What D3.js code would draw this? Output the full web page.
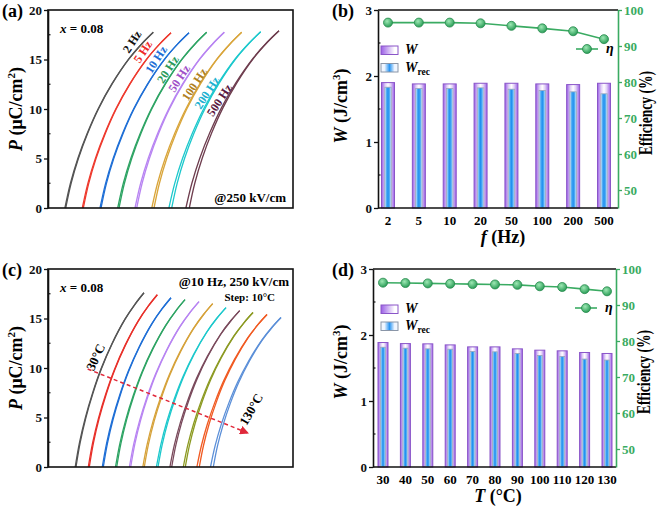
<!DOCTYPE html>
<html><head><meta charset="utf-8">
<script src="https://cdn.jsdelivr.net/npm/d3@7"></script>
<style>
body{margin:0;background:#fff}
text{font-family:"Liberation Serif","Times New Roman",serif;font-weight:bold}
</style>
</head><body>
<svg id="c" width="661" height="507"></svg>
<script>
// ---------------- DATA ----------------
const freqCats = ["2","5","10","20","50","100","200","500"];
const freqLabels = ["2 Hz","5 Hz","10 Hz","20 Hz","50 Hz","100 Hz","200 Hz","500 Hz"];
const freqW    = [1.90,1.88,1.88,1.89,1.89,1.88,1.87,1.89];
const freqWrec = [1.83,1.81,1.81,1.82,1.80,1.78,1.76,1.73];
const freqEta  = [96.5,96.5,96.5,96.3,95.6,94.9,94.1,91.9];

const tempCats = ["30","40","50","60","70","80","90","100","110","120","130"];
const tempW    = [1.886,1.870,1.866,1.850,1.820,1.820,1.790,1.770,1.760,1.735,1.720];
const tempWrec = [1.815,1.800,1.790,1.785,1.750,1.745,1.720,1.690,1.675,1.635,1.620];
const tempEta  = [96.2,96.1,96.0,95.9,95.8,95.7,95.6,95.2,95.0,94.4,93.8];

// unipolar P-E loop shape (normalized, read from the 2 Hz loop)
const loopShapeE = [0, 0.062, 0.145, 0.25, 0.375, 0.53, 0.72, 0.87, 1];
const loopShapeP = [0, 0.141, 0.282, 0.424, 0.565, 0.706, 0.847, 0.935, 1];

// panel (a): loops shifted horizontally (arb. E units), Pmax, branch gap
const freqOffset = [17.7,35.3,53,71,88.7,106,123.7,141.3];
const freqWidth  = [87.6,87.7,88,87.7,87.6,87.7,89,89.7];
const freqPmax   = [17.75,17.7,17.7,17.75,17.75,17.75,17.8,17.9];
const freqGap    = [0.8,1.0,1.0,1.3,1.7,2.2,2.8,3.4];
const freqColors = ["#555555","#ee3a2e","#1f6fd6","#2ea464","#b884f2","#d9a53a","#1cc8cc","#6e3d4e"];
const freqLabelColors = ["#111111","#ee2a2a","#1f6fd6","#2a9a5a","#a050c8","#b08020","#22b0d0","#5a1840"];
const freqLabelE = [84,94.7,108,119.7,131,146.3,159,171.3];
const freqLabelP = [16.8,15.8,15.0,14.0,13.1,12.5,11.65,10.9];

// panel (c)
const tempOffset = [28,41.3,55.3,68.7,82.7,96.3,110,123.7,137.3,151.3,165.3];
const tempWidth  = [68,68,67.7,68.3,68.3,68.4,68,68,67.7,67.7,67.7];
const tempPmax   = [17.6,17.4,17.1,16.9,16.7,16.5,16.1,15.8,15.6,15.4,15.1];
const tempGap    = [0.8,1.0,1.0,1.2,1.3,1.5,1.6,1.8,2.0,2.4,2.8];
const tempColors = ["#555555","#e8302a","#1f6fd6","#2ea464","#b884f2","#d6a23a","#1cc8cc","#7a4a5c","#8c9a22","#f05a22","#5b8fd8"];

const pTicks = [0,5,10,15,20];
const wTicks = [0,1,2,3];
const etaTicks = [50,60,70,80,90,100];

// ---------------- DRAW ----------------
const svg = d3.select("#c");
const defs = svg.append("defs");
function grad(id, stops){
  const g = defs.append("linearGradient").attr("id",id)
    .attr("x1","0%").attr("x2","100%").attr("y1","0%").attr("y2","0%");
  stops.forEach(([o,c])=>g.append("stop").attr("offset",o).attr("stop-color",c));
}
grad("gW", [["0%","#9a5ee6"],["30%","#e2d2f7"],["50%","#ffffff"],["70%","#e2d2f7"],["100%","#9a5ee6"]]);
grad("gR", [["0%","#e6f2ff"],["25%","#56b0f5"],["50%","#1e8ff0"],["75%","#56b0f5"],["100%","#e6f2ff"]]);
grad("gWL",[["0%","#9a5ee6"],["80%","#ffffff"],["100%","#ffffff"]]);
grad("gRL",[["0%","#f0f6ff"],["20%","#f0f6ff"],["50%","#2a95f2"],["80%","#f0f6ff"],["100%","#f0f6ff"]]);
const rg = defs.append("radialGradient").attr("id","gM").attr("cx","40%").attr("cy","35%").attr("r","65%");
rg.append("stop").attr("offset","0%").attr("stop-color","#9ee8b4");
rg.append("stop").attr("offset","100%").attr("stop-color","#2a9d57");

const GREEN = "#3aab62";

function styleAxis(g, color){
  g.selectAll("path").attr("stroke", color).attr("stroke-width",1.6);
  g.selectAll("line").attr("stroke", color).attr("stroke-width",1.3);
  g.selectAll("text").attr("fill", color).attr("font-size",13)
    .attr("font-family","Liberation Serif").attr("font-weight","bold");
}

function minor(g, scale, vals, x0, dir, color){
  vals.forEach(v=>g.append("line").attr("x1",x0).attr("x2",x0+dir*2.5)
    .attr("y1",scale(v)).attr("y2",scale(v)).attr("stroke",color).attr("stroke-width",1.2));
}

function pePanel(o){
  const g = svg.append("g");
  const x = d3.scaleLinear().domain([0,245]).range([o.L,o.R]);
  const y = d3.scaleLinear().domain([0,20]).range([o.B,o.T]);
  const line = d3.line().x(d=>x(d[0])).y(d=>y(d[1])).curve(d3.curveCatmullRom.alpha(0.5));
  o.offset.forEach((off,i)=>{
    const a = loopShapeE.map((e,k)=>[off + e*o.width[i], loopShapeP[k]*o.pmax[i]]);
    const b = loopShapeE.map((e,k)=>[off - o.gap[i]*(1-loopShapeP[k]) + e*o.width[i], loopShapeP[k]*o.pmax[i]]);
    [a,b].forEach(pts=>g.append("path").attr("d",line(pts)).attr("fill","none")
      .attr("stroke",o.colors[i]).attr("stroke-width",1.3));
  });
  g.append("rect").attr("x",o.L).attr("y",o.T).attr("width",o.R-o.L).attr("height",o.B-o.T)
    .attr("fill","none").attr("stroke","#111").attr("stroke-width",1.6);
  const ax = g.append("g").attr("transform",`translate(${o.L},0)`)
    .call(d3.axisLeft(y).tickValues(pTicks).tickSize(4).tickPadding(2).tickSizeOuter(0).tickFormat(d3.format("d")));
  styleAxis(ax,"#111");
  minor(g, y, [2.5,7.5,12.5,17.5], o.L, 1, "#111");
  const t = g.append("text").attr("transform",`translate(${o.L-26},${(o.T+o.B)/2}) rotate(-90)`)
    .attr("text-anchor","middle").attr("font-size",18);
  t.append("tspan").attr("font-style","italic").text("P");
  t.append("tspan").text(" (μC/cm");
  t.append("tspan").attr("font-size",11).attr("dy",-7).text("2");
  t.append("tspan").attr("dy",7).text(")");
  return {g,x,y};
}

function barPanel(o){
  const g = svg.append("g");
  const x = d3.scalePoint().domain(o.cats).range([o.x0,o.x1]);
  const y = d3.scaleLinear().domain([0,3]).range([o.B,o.T]);
  const y2 = d3.scaleLinear().domain([45,100]).range([o.B,o.T]);
  g.selectAll(".bw").data(o.W).join("rect")
    .attr("x",(d,i)=>x(o.cats[i])-o.bw/2).attr("width",o.bw)
    .attr("y",d=>y(d)).attr("height",d=>y(0)-y(d))
    .attr("fill","url(#gW)").attr("stroke","#8a55c8").attr("stroke-width",1);
  g.selectAll(".br").data(o.Wrec).join("rect")
    .attr("x",(d,i)=>x(o.cats[i])-o.iw/2).attr("width",o.iw)
    .attr("y",d=>y(d)).attr("height",d=>y(0)-y(d))
    .attr("fill","url(#gR)").attr("stroke","#9aa6b8").attr("stroke-width",0.8);
  g.append("line").attr("x1",o.L).attr("x2",o.R).attr("y1",o.T).attr("y2",o.T).attr("stroke","#111").attr("stroke-width",1.6);
  g.append("line").attr("x1",o.L).attr("x2",o.R).attr("y1",o.B).attr("y2",o.B).attr("stroke","#111").attr("stroke-width",1.6);
  const axL = g.append("g").attr("transform",`translate(${o.L},0)`)
    .call(d3.axisLeft(y).tickValues(wTicks).tickSize(4).tickPadding(2).tickSizeOuter(0).tickFormat(d3.format("d")));
  styleAxis(axL,"#111");
  minor(g, y, [0.5,1.5,2.5], o.L, 1, "#111");
  const axR = g.append("g").attr("transform",`translate(${o.R},0)`)
    .call(d3.axisRight(y2).tickValues(etaTicks).tickSize(4).tickPadding(2).tickSizeOuter(0).tickFormat(d3.format("d")));
  styleAxis(axR,GREEN);
  g.selectAll(".xl").data(o.cats).join("text")
    .attr("x",d=>x(d)).attr("y",o.B+16.5).attr("text-anchor","middle").attr("font-size",13).text(d=>d);
  const ln = d3.line().x((d,i)=>x(o.cats[i])).y(d=>y2(d));
  g.append("path").attr("d",ln(o.eta)).attr("fill","none").attr("stroke",GREEN).attr("stroke-width",1.6);
  g.selectAll(".mk").data(o.eta).join("circle")
    .attr("cx",(d,i)=>x(o.cats[i])).attr("cy",d=>y2(d)).attr("r",4.5)
    .attr("fill","url(#gM)").attr("stroke","#268a4c").attr("stroke-width",0.8);
  // legend
  const lx = 381;
  g.append("rect").attr("x",lx).attr("y",o.ly1).attr("width",17).attr("height",8.5)
    .attr("fill","url(#gWL)").attr("stroke","#8a55c8").attr("stroke-width",1);
  g.append("rect").attr("x",lx).attr("y",o.ly2).attr("width",17).attr("height",8.5)
    .attr("fill","url(#gRL)").attr("stroke","#8a96a8").attr("stroke-width",1);
  g.append("text").attr("x",lx+24).attr("y",o.ly1+8).attr("font-size",14).attr("font-style","italic").text("W");
  const tr = g.append("text").attr("x",lx+24).attr("y",o.ly2+8).attr("font-size",14);
  tr.append("tspan").attr("font-style","italic").text("W");
  tr.append("tspan").attr("font-size",9.5).attr("dy",3).text("rec");
  g.append("line").attr("x1",o.ex-11).attr("x2",o.ex+11).attr("y1",o.ey).attr("y2",o.ey).attr("stroke",GREEN).attr("stroke-width",1.6);
  g.append("circle").attr("cx",o.ex).attr("cy",o.ey).attr("r",4.5).attr("fill","url(#gM)").attr("stroke","#268a4c").attr("stroke-width",0.8);
  g.append("text").attr("x",o.ex+19).attr("y",o.ey+4).attr("font-size",14).attr("font-style","italic").text("η");
  // titles
  const t = g.append("text").attr("transform",`translate(${o.tx},${o.tyc}) rotate(-90)`)
    .attr("text-anchor","middle").attr("font-size",18);
  t.append("tspan").attr("font-style","italic").text("W");
  t.append("tspan").text(" (J/cm");
  t.append("tspan").attr("font-size",11).attr("dy",-7).text("3");
  t.append("tspan").attr("dy",7).text(")");
  g.append("text").attr("transform",`translate(${o.R+34},${(o.T+o.B)/2+4}) rotate(-90)`)
    .attr("text-anchor","middle").attr("font-size",18)
    .attr("textLength",84).attr("lengthAdjust","spacingAndGlyphs").text("Efficiency (%)");
  const xt = g.append("text").attr("x",o.xtc).attr("y",o.B+35).attr("text-anchor","middle").attr("font-size",18);
  xt.append("tspan").attr("font-style","italic").text(o.xvar);
  xt.append("tspan").text(o.xunit);
  return g;
}

// (a)
const A = pePanel({L:48,R:293,T:10,B:208,offset:freqOffset,width:freqWidth,pmax:freqPmax,gap:freqGap,colors:freqColors});
freqLabels.forEach((s,i)=>{
  A.g.append("text").attr("transform",`translate(${A.x(freqLabelE[i])},${A.y(freqLabelP[i])}) rotate(-57)`)
    .attr("text-anchor","middle").attr("dy","0.35em").attr("font-size",12).attr("fill",freqLabelColors[i]).text(s);
});
const xa = A.g.append("text").attr("x",60).attr("y",33).attr("font-size",13);
xa.append("tspan").attr("font-style","italic").text("x");
xa.append("tspan").text(" = 0.08");
A.g.append("text").attr("x",286).attr("y",202).attr("text-anchor","end").attr("font-size",13).text("@250 kV/cm");
svg.append("text").attr("x",2).attr("y",17).attr("font-size",18).attr("font-weight","normal").text("(a)");

// (b)
barPanel({L:378,R:618,T:10,B:208,x0:388,x1:604,cats:freqCats,W:freqW,Wrec:freqWrec,eta:freqEta,bw:13,iw:6.5,
  ly1:46,ly2:63.5,ex:587,ey:49,xvar:"f",xunit:" (Hz)",tx:347,tyc:106,xtc:503});
svg.append("text").attr("x",332).attr("y",17).attr("font-size",18).attr("font-weight","normal").text("(b)");

// (c)
const C = pePanel({L:48,R:293,T:269,B:467,offset:tempOffset,width:tempWidth,pmax:tempPmax,gap:tempGap,colors:tempColors});
const xc = C.g.append("text").attr("x",60).attr("y",292).attr("font-size",13);
xc.append("tspan").attr("font-style","italic").text("x");
xc.append("tspan").text(" = 0.08");
C.g.append("text").attr("x",289).attr("y",286).attr("text-anchor","end").attr("font-size",13).text("@10 Hz, 250 kV/cm");
C.g.append("text").attr("x",275).attr("y",301).attr("text-anchor","end").attr("font-size",11).text("Step: 10°C");
defs.append("marker").attr("id","arr").attr("viewBox","0 0 10 10").attr("refX",8).attr("refY",5)
  .attr("markerWidth",6).attr("markerHeight",6).attr("orient","auto")
  .append("path").attr("d","M0,0L10,5L0,10z").attr("fill","#e0283a");
C.g.append("line").attr("x1",C.x(39.7)).attr("y1",C.y(9.9)).attr("x2",C.x(199.3)).attr("y2",C.y(3.46))
  .attr("stroke","#e0283a").attr("stroke-width",1.5).attr("stroke-dasharray","4,3").attr("marker-end","url(#arr)");
C.g.append("text").attr("transform",`translate(${C.x(47.5)},${C.y(11.1)}) rotate(-65)`)
  .attr("text-anchor","middle").attr("dy","0.35em").attr("font-size",13).text("30°C");
C.g.append("text").attr("transform",`translate(${C.x(203)},${C.y(5.83)}) rotate(-60)`)
  .attr("text-anchor","middle").attr("dy","0.35em").attr("font-size",13).text("130°C");
svg.append("text").attr("x",2).attr("y",276).attr("font-size",18).attr("font-weight","normal").text("(c)");

// (d)
barPanel({L:373,R:616,T:269,B:467,x0:383,x1:607,cats:tempCats,W:tempW,Wrec:tempWrec,eta:tempEta,bw:10,iw:5,
  ly1:305,ly2:322,ex:586,ey:308,xvar:"T",xunit:" (°C)",tx:347,tyc:362,xtc:498});
svg.append("text").attr("x",332).attr("y",276).attr("font-size",18).attr("font-weight","normal").text("(d)");
</script>
</body></html>
